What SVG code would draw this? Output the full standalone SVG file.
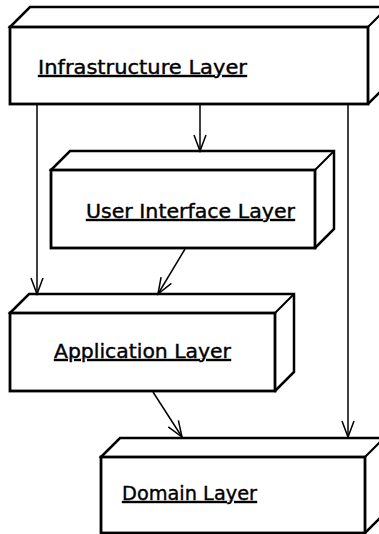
<svg xmlns="http://www.w3.org/2000/svg" width="379" height="534" viewBox="0 0 379 534">
  <defs>
    <marker id="arrow" viewBox="0 0 16 12" refX="16" refY="6" markerWidth="16" markerHeight="12" markerUnits="userSpaceOnUse" orient="auto" overflow="visible">
      <path d="M0,0 L16,6 L0,12" fill="none" stroke="#000" stroke-width="1.5"/>
    </marker>
  </defs>
  <style>
    .box { fill: #fff; stroke: #000; stroke-width: 2.5; stroke-linejoin: miter; }
    .front { fill: #fff; stroke: #000; stroke-width: 2.8; }
    .edge { fill: none; stroke: #000; stroke-width: 2; }
    .conn { fill: none; stroke: #000; stroke-width: 1.5; marker-end: url(#arrow); }
    .lbl { font-family: "DejaVu Sans", sans-serif; font-size: 20px; fill: #000; stroke: #000; stroke-width: 0.4; text-decoration: underline; }
  </style>
  <rect width="379" height="534" fill="#fff"/>
  <g id="infrastructure">
    <path class="box" d="M10,27 L30,7 L388,7 L388,84 L368,104 Z"/>
    <path class="edge" d="M368,27 L388,7"/>
    <rect class="front" x="10" y="27" width="358" height="77"/>
    <text class="lbl" x="38" y="74" textLength="209" lengthAdjust="spacingAndGlyphs">Infrastructure Layer</text>
  </g>
  <g id="userinterface">
    <path class="box" d="M51,170 L70,151 L334,151 L334,229 L315,248 Z"/>
    <path class="edge" d="M315,170 L334,151"/>
    <rect class="front" x="51" y="170" width="264" height="78"/>
    <text class="lbl" x="86" y="218" textLength="209" lengthAdjust="spacingAndGlyphs">User Interface Layer</text>
  </g>
  <g id="application">
    <path class="box" d="M10,313 L29,294 L294,294 L294,372 L275,391 Z"/>
    <path class="edge" d="M275,313 L294,294"/>
    <rect class="front" x="10" y="313" width="265" height="78"/>
    <text class="lbl" x="54" y="358" textLength="177" lengthAdjust="spacingAndGlyphs">Application Layer</text>
  </g>
  <g id="domain">
    <path class="box" d="M101,457 L120,438 L384,438 L384,514 L365,533 Z"/>
    <path class="edge" d="M365,457 L384,438"/>
    <rect class="front" x="101" y="457" width="264" height="76"/>
    <text class="lbl" x="122" y="500" textLength="135" lengthAdjust="spacingAndGlyphs">Domain Layer</text>
  </g>
  <g id="connectors">
    <line class="conn" x1="200" y1="105" x2="200" y2="151"/>
    <line class="conn" x1="37" y1="105" x2="37" y2="294"/>
    <line class="conn" x1="348" y1="105" x2="348" y2="437"/>
    <line class="conn" x1="185" y1="249" x2="158" y2="294"/>
    <line class="conn" x1="153" y1="392" x2="182" y2="437"/>
  </g>
</svg>
